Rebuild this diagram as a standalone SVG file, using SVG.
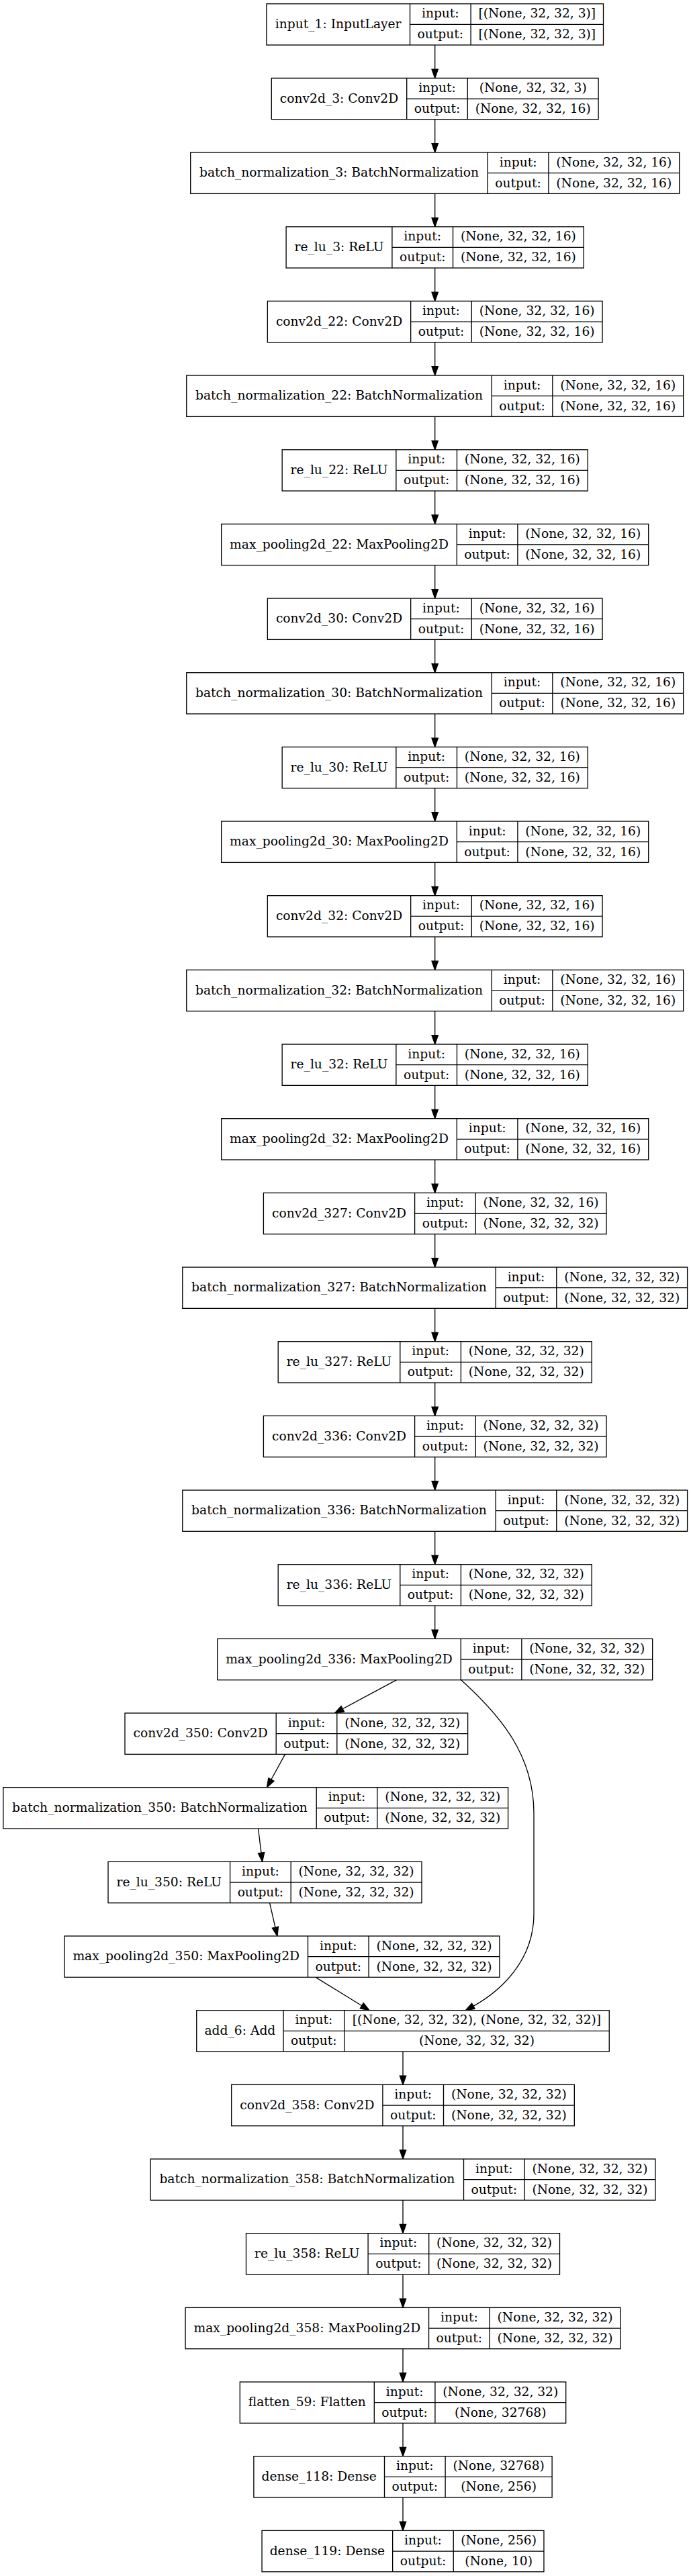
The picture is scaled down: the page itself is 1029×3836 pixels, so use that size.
<svg xmlns="http://www.w3.org/2000/svg" width="1029" height="3836" viewBox="0 0 1029 3836">
<style>
.node rect{fill:#fff;stroke:#000;stroke-width:1.33}
.node path{fill:none;stroke:#000;stroke-width:1.33}
.node text{font-family:"DejaVu Serif","Liberation Serif",serif;font-size:18.67px;text-anchor:middle;fill:#000}
.edges path{fill:none;stroke:#000;stroke-width:1.33;marker-end:url(#arr)}
</style>
<defs>
<marker id="arr" markerUnits="userSpaceOnUse" viewBox="0 0 13.33 9.34" refX="0" refY="4.67" markerWidth="13.33" markerHeight="9.34" orient="auto" overflow="visible">
<path d="M0,0L13.33,4.67L0,9.34z" fill="#000" stroke="#000" stroke-width="1.33"/>
</marker>
</defs>
<rect width="1029" height="3836" fill="#fff"/>
<g class="edges">
<path d="M647.7,67.03V103.04"/>
<path d="M647.7,177.7V213.7"/>
<path d="M647.7,288.37V324.37"/>
<path d="M647.7,399.03V435.04"/>
<path d="M647.7,509.7V545.7"/>
<path d="M647.7,620.37V656.37"/>
<path d="M647.7,731.03V767.04"/>
<path d="M647.7,841.7V877.7"/>
<path d="M647.7,952.37V988.37"/>
<path d="M647.7,1063.03V1099.04"/>
<path d="M647.7,1173.7V1209.7"/>
<path d="M647.7,1284.37V1320.37"/>
<path d="M647.7,1395.03V1431.04"/>
<path d="M647.7,1505.7V1541.7"/>
<path d="M647.7,1616.37V1652.37"/>
<path d="M647.7,1727.03V1763.04"/>
<path d="M647.7,1837.7V1873.7"/>
<path d="M647.7,1948.37V1984.37"/>
<path d="M647.7,2059.03V2095.04"/>
<path d="M647.7,2169.7V2205.7"/>
<path d="M647.7,2280.37V2316.37"/>
<path d="M647.7,2391.03V2427.04"/>
<path d="M590.51,2501.7L510.24,2544.73"/>
<path d="M686.7,2501.7C740,2550 795,2610 795,2700L795,2850C795,2920 745,2965 704.9,2987.3"/>
<path d="M424.51,2612.37L403.89,2650.01"/>
<path d="M384.52,2723.03L389.03,2759.14"/>
<path d="M401.57,2833.7L409.94,2870.04"/>
<path d="M469.88,2944.37L538.76,2986.72"/>
<path d="M600,3055.03V3091.04"/>
<path d="M600,3165.7V3201.7"/>
<path d="M600,3276.37V3312.37"/>
<path d="M600,3387.03V3423.04"/>
<path d="M600,3497.7V3533.7"/>
<path d="M600,3608.37V3644.37"/>
<path d="M600,3719.03V3755.04"/>
</g>

<g id="input_1" class="node" transform="translate(396.9,5.7)">
<rect width="501.6" height="61.33"/><path d="M213.6,0V61.33M304.2,0V61.33M213.6,30.67H501.6"/>
<text x="106.8" y="36.3">input_1: InputLayer</text><text x="258.9" y="20.8">input:</text><text x="258.9" y="51.5">output:</text>
<text x="402.9" y="20.8">[(None, 32, 32, 3)]</text><text x="402.9" y="51.5">[(None, 32, 32, 3)]</text>
</g>
<g id="conv2d_3" class="node" transform="translate(404.3,116.37)">
<rect width="486.8" height="61.33"/><path d="M201.4,0V61.33M292,0V61.33M201.4,30.67H486.8"/>
<text x="100.7" y="36.3">conv2d_3: Conv2D</text><text x="246.7" y="20.8">input:</text><text x="246.7" y="51.5">output:</text>
<text x="389.4" y="20.8">(None, 32, 32, 3)</text><text x="389.4" y="51.5">(None, 32, 32, 16)</text>
</g>
<g id="batch_normalization_3" class="node" transform="translate(283.7,227.03)">
<rect width="728" height="61.33"/><path d="M442.6,0V61.33M533.2,0V61.33M442.6,30.67H728"/>
<text x="221.3" y="36.3">batch_normalization_3: BatchNormalization</text><text x="487.9" y="20.8">input:</text><text x="487.9" y="51.5">output:</text>
<text x="630.6" y="20.8">(None, 32, 32, 16)</text><text x="630.6" y="51.5">(None, 32, 32, 16)</text>
</g>
<g id="re_lu_3" class="node" transform="translate(426.1,337.7)">
<rect width="443.2" height="61.33"/><path d="M157.8,0V61.33M248.4,0V61.33M157.8,30.67H443.2"/>
<text x="78.9" y="36.3">re_lu_3: ReLU</text><text x="203.1" y="20.8">input:</text><text x="203.1" y="51.5">output:</text>
<text x="345.8" y="20.8">(None, 32, 32, 16)</text><text x="345.8" y="51.5">(None, 32, 32, 16)</text>
</g>
<g id="conv2d_22" class="node" transform="translate(398.35,448.37)">
<rect width="498.7" height="61.33"/><path d="M213.3,0V61.33M303.9,0V61.33M213.3,30.67H498.7"/>
<text x="106.65" y="36.3">conv2d_22: Conv2D</text><text x="258.6" y="20.8">input:</text><text x="258.6" y="51.5">output:</text>
<text x="401.3" y="20.8">(None, 32, 32, 16)</text><text x="401.3" y="51.5">(None, 32, 32, 16)</text>
</g>
<g id="batch_normalization_22" class="node" transform="translate(277.75,559.03)">
<rect width="739.9" height="61.33"/><path d="M454.5,0V61.33M545.1,0V61.33M454.5,30.67H739.9"/>
<text x="227.25" y="36.3">batch_normalization_22: BatchNormalization</text><text x="499.8" y="20.8">input:</text><text x="499.8" y="51.5">output:</text>
<text x="642.5" y="20.8">(None, 32, 32, 16)</text><text x="642.5" y="51.5">(None, 32, 32, 16)</text>
</g>
<g id="re_lu_22" class="node" transform="translate(420.15,669.7)">
<rect width="455.1" height="61.33"/><path d="M169.7,0V61.33M260.3,0V61.33M169.7,30.67H455.1"/>
<text x="84.85" y="36.3">re_lu_22: ReLU</text><text x="215" y="20.8">input:</text><text x="215" y="51.5">output:</text>
<text x="357.7" y="20.8">(None, 32, 32, 16)</text><text x="357.7" y="51.5">(None, 32, 32, 16)</text>
</g>
<g id="max_pooling2d_22" class="node" transform="translate(329.7,780.37)">
<rect width="636" height="61.33"/><path d="M350.6,0V61.33M441.2,0V61.33M350.6,30.67H636"/>
<text x="175.3" y="36.3">max_pooling2d_22: MaxPooling2D</text><text x="395.9" y="20.8">input:</text><text x="395.9" y="51.5">output:</text>
<text x="538.6" y="20.8">(None, 32, 32, 16)</text><text x="538.6" y="51.5">(None, 32, 32, 16)</text>
</g>
<g id="conv2d_30" class="node" transform="translate(398.35,891.03)">
<rect width="498.7" height="61.33"/><path d="M213.3,0V61.33M303.9,0V61.33M213.3,30.67H498.7"/>
<text x="106.65" y="36.3">conv2d_30: Conv2D</text><text x="258.6" y="20.8">input:</text><text x="258.6" y="51.5">output:</text>
<text x="401.3" y="20.8">(None, 32, 32, 16)</text><text x="401.3" y="51.5">(None, 32, 32, 16)</text>
</g>
<g id="batch_normalization_30" class="node" transform="translate(277.75,1001.7)">
<rect width="739.9" height="61.33"/><path d="M454.5,0V61.33M545.1,0V61.33M454.5,30.67H739.9"/>
<text x="227.25" y="36.3">batch_normalization_30: BatchNormalization</text><text x="499.8" y="20.8">input:</text><text x="499.8" y="51.5">output:</text>
<text x="642.5" y="20.8">(None, 32, 32, 16)</text><text x="642.5" y="51.5">(None, 32, 32, 16)</text>
</g>
<g id="re_lu_30" class="node" transform="translate(420.15,1112.37)">
<rect width="455.1" height="61.33"/><path d="M169.7,0V61.33M260.3,0V61.33M169.7,30.67H455.1"/>
<text x="84.85" y="36.3">re_lu_30: ReLU</text><text x="215" y="20.8">input:</text><text x="215" y="51.5">output:</text>
<text x="357.7" y="20.8">(None, 32, 32, 16)</text><text x="357.7" y="51.5">(None, 32, 32, 16)</text>
</g>
<g id="max_pooling2d_30" class="node" transform="translate(329.7,1223.03)">
<rect width="636" height="61.33"/><path d="M350.6,0V61.33M441.2,0V61.33M350.6,30.67H636"/>
<text x="175.3" y="36.3">max_pooling2d_30: MaxPooling2D</text><text x="395.9" y="20.8">input:</text><text x="395.9" y="51.5">output:</text>
<text x="538.6" y="20.8">(None, 32, 32, 16)</text><text x="538.6" y="51.5">(None, 32, 32, 16)</text>
</g>
<g id="conv2d_32" class="node" transform="translate(398.35,1333.7)">
<rect width="498.7" height="61.33"/><path d="M213.3,0V61.33M303.9,0V61.33M213.3,30.67H498.7"/>
<text x="106.65" y="36.3">conv2d_32: Conv2D</text><text x="258.6" y="20.8">input:</text><text x="258.6" y="51.5">output:</text>
<text x="401.3" y="20.8">(None, 32, 32, 16)</text><text x="401.3" y="51.5">(None, 32, 32, 16)</text>
</g>
<g id="batch_normalization_32" class="node" transform="translate(277.75,1444.37)">
<rect width="739.9" height="61.33"/><path d="M454.5,0V61.33M545.1,0V61.33M454.5,30.67H739.9"/>
<text x="227.25" y="36.3">batch_normalization_32: BatchNormalization</text><text x="499.8" y="20.8">input:</text><text x="499.8" y="51.5">output:</text>
<text x="642.5" y="20.8">(None, 32, 32, 16)</text><text x="642.5" y="51.5">(None, 32, 32, 16)</text>
</g>
<g id="re_lu_32" class="node" transform="translate(420.15,1555.03)">
<rect width="455.1" height="61.33"/><path d="M169.7,0V61.33M260.3,0V61.33M169.7,30.67H455.1"/>
<text x="84.85" y="36.3">re_lu_32: ReLU</text><text x="215" y="20.8">input:</text><text x="215" y="51.5">output:</text>
<text x="357.7" y="20.8">(None, 32, 32, 16)</text><text x="357.7" y="51.5">(None, 32, 32, 16)</text>
</g>
<g id="max_pooling2d_32" class="node" transform="translate(329.7,1665.7)">
<rect width="636" height="61.33"/><path d="M350.6,0V61.33M441.2,0V61.33M350.6,30.67H636"/>
<text x="175.3" y="36.3">max_pooling2d_32: MaxPooling2D</text><text x="395.9" y="20.8">input:</text><text x="395.9" y="51.5">output:</text>
<text x="538.6" y="20.8">(None, 32, 32, 16)</text><text x="538.6" y="51.5">(None, 32, 32, 16)</text>
</g>
<g id="conv2d_327" class="node" transform="translate(392.4,1776.37)">
<rect width="510.6" height="61.33"/><path d="M225.2,0V61.33M315.8,0V61.33M225.2,30.67H510.6"/>
<text x="112.6" y="36.3">conv2d_327: Conv2D</text><text x="270.5" y="20.8">input:</text><text x="270.5" y="51.5">output:</text>
<text x="413.2" y="20.8">(None, 32, 32, 16)</text><text x="413.2" y="51.5">(None, 32, 32, 32)</text>
</g>
<g id="batch_normalization_327" class="node" transform="translate(271.8,1887.03)">
<rect width="751.8" height="61.33"/><path d="M466.4,0V61.33M557,0V61.33M466.4,30.67H751.8"/>
<text x="233.2" y="36.3">batch_normalization_327: BatchNormalization</text><text x="511.7" y="20.8">input:</text><text x="511.7" y="51.5">output:</text>
<text x="654.4" y="20.8">(None, 32, 32, 32)</text><text x="654.4" y="51.5">(None, 32, 32, 32)</text>
</g>
<g id="re_lu_327" class="node" transform="translate(414.2,1997.7)">
<rect width="467" height="61.33"/><path d="M181.6,0V61.33M272.2,0V61.33M181.6,30.67H467"/>
<text x="90.8" y="36.3">re_lu_327: ReLU</text><text x="226.9" y="20.8">input:</text><text x="226.9" y="51.5">output:</text>
<text x="369.6" y="20.8">(None, 32, 32, 32)</text><text x="369.6" y="51.5">(None, 32, 32, 32)</text>
</g>
<g id="conv2d_336" class="node" transform="translate(392.4,2108.37)">
<rect width="510.6" height="61.33"/><path d="M225.2,0V61.33M315.8,0V61.33M225.2,30.67H510.6"/>
<text x="112.6" y="36.3">conv2d_336: Conv2D</text><text x="270.5" y="20.8">input:</text><text x="270.5" y="51.5">output:</text>
<text x="413.2" y="20.8">(None, 32, 32, 32)</text><text x="413.2" y="51.5">(None, 32, 32, 32)</text>
</g>
<g id="batch_normalization_336" class="node" transform="translate(271.8,2219.03)">
<rect width="751.8" height="61.33"/><path d="M466.4,0V61.33M557,0V61.33M466.4,30.67H751.8"/>
<text x="233.2" y="36.3">batch_normalization_336: BatchNormalization</text><text x="511.7" y="20.8">input:</text><text x="511.7" y="51.5">output:</text>
<text x="654.4" y="20.8">(None, 32, 32, 32)</text><text x="654.4" y="51.5">(None, 32, 32, 32)</text>
</g>
<g id="re_lu_336" class="node" transform="translate(414.2,2329.7)">
<rect width="467" height="61.33"/><path d="M181.6,0V61.33M272.2,0V61.33M181.6,30.67H467"/>
<text x="90.8" y="36.3">re_lu_336: ReLU</text><text x="226.9" y="20.8">input:</text><text x="226.9" y="51.5">output:</text>
<text x="369.6" y="20.8">(None, 32, 32, 32)</text><text x="369.6" y="51.5">(None, 32, 32, 32)</text>
</g>
<g id="max_pooling2d_336" class="node" transform="translate(323.75,2440.37)">
<rect width="647.9" height="61.33"/><path d="M362.5,0V61.33M453.1,0V61.33M362.5,30.67H647.9"/>
<text x="181.25" y="36.3">max_pooling2d_336: MaxPooling2D</text><text x="407.8" y="20.8">input:</text><text x="407.8" y="51.5">output:</text>
<text x="550.5" y="20.8">(None, 32, 32, 32)</text><text x="550.5" y="51.5">(None, 32, 32, 32)</text>
</g>
<g id="conv2d_350" class="node" transform="translate(186,2551.03)">
<rect width="510.6" height="61.33"/><path d="M225.2,0V61.33M315.8,0V61.33M225.2,30.67H510.6"/>
<text x="112.6" y="36.3">conv2d_350: Conv2D</text><text x="270.5" y="20.8">input:</text><text x="270.5" y="51.5">output:</text>
<text x="413.2" y="20.8">(None, 32, 32, 32)</text><text x="413.2" y="51.5">(None, 32, 32, 32)</text>
</g>
<g id="batch_normalization_350" class="node" transform="translate(4.8,2661.7)">
<rect width="751.8" height="61.33"/><path d="M466.4,0V61.33M557,0V61.33M466.4,30.67H751.8"/>
<text x="233.2" y="36.3">batch_normalization_350: BatchNormalization</text><text x="511.7" y="20.8">input:</text><text x="511.7" y="51.5">output:</text>
<text x="654.4" y="20.8">(None, 32, 32, 32)</text><text x="654.4" y="51.5">(None, 32, 32, 32)</text>
</g>
<g id="re_lu_350" class="node" transform="translate(161,2772.37)">
<rect width="467" height="61.33"/><path d="M181.6,0V61.33M272.2,0V61.33M181.6,30.67H467"/>
<text x="90.8" y="36.3">re_lu_350: ReLU</text><text x="226.9" y="20.8">input:</text><text x="226.9" y="51.5">output:</text>
<text x="369.6" y="20.8">(None, 32, 32, 32)</text><text x="369.6" y="51.5">(None, 32, 32, 32)</text>
</g>
<g id="max_pooling2d_350" class="node" transform="translate(96,2883.03)">
<rect width="647.9" height="61.33"/><path d="M362.5,0V61.33M453.1,0V61.33M362.5,30.67H647.9"/>
<text x="181.25" y="36.3">max_pooling2d_350: MaxPooling2D</text><text x="407.8" y="20.8">input:</text><text x="407.8" y="51.5">output:</text>
<text x="550.5" y="20.8">(None, 32, 32, 32)</text><text x="550.5" y="51.5">(None, 32, 32, 32)</text>
</g>
<g id="add_6" class="node" transform="translate(292.75,2993.7)">
<rect width="614.5" height="61.33"/><path d="M129.3,0V61.33M219.9,0V61.33M129.3,30.67H614.5"/>
<text x="64.65" y="36.3">add_6: Add</text><text x="174.6" y="20.8">input:</text><text x="174.6" y="51.5">output:</text>
<text x="417.2" y="20.8">[(None, 32, 32, 32), (None, 32, 32, 32)]</text><text x="417.2" y="51.5">(None, 32, 32, 32)</text>
</g>
<g id="conv2d_358" class="node" transform="translate(344.7,3104.37)">
<rect width="510.6" height="61.33"/><path d="M225.2,0V61.33M315.8,0V61.33M225.2,30.67H510.6"/>
<text x="112.6" y="36.3">conv2d_358: Conv2D</text><text x="270.5" y="20.8">input:</text><text x="270.5" y="51.5">output:</text>
<text x="413.2" y="20.8">(None, 32, 32, 32)</text><text x="413.2" y="51.5">(None, 32, 32, 32)</text>
</g>
<g id="batch_normalization_358" class="node" transform="translate(224.1,3215.03)">
<rect width="751.8" height="61.33"/><path d="M466.4,0V61.33M557,0V61.33M466.4,30.67H751.8"/>
<text x="233.2" y="36.3">batch_normalization_358: BatchNormalization</text><text x="511.7" y="20.8">input:</text><text x="511.7" y="51.5">output:</text>
<text x="654.4" y="20.8">(None, 32, 32, 32)</text><text x="654.4" y="51.5">(None, 32, 32, 32)</text>
</g>
<g id="re_lu_358" class="node" transform="translate(366.5,3325.7)">
<rect width="467" height="61.33"/><path d="M181.6,0V61.33M272.2,0V61.33M181.6,30.67H467"/>
<text x="90.8" y="36.3">re_lu_358: ReLU</text><text x="226.9" y="20.8">input:</text><text x="226.9" y="51.5">output:</text>
<text x="369.6" y="20.8">(None, 32, 32, 32)</text><text x="369.6" y="51.5">(None, 32, 32, 32)</text>
</g>
<g id="max_pooling2d_358" class="node" transform="translate(276.05,3436.37)">
<rect width="647.9" height="61.33"/><path d="M362.5,0V61.33M453.1,0V61.33M362.5,30.67H647.9"/>
<text x="181.25" y="36.3">max_pooling2d_358: MaxPooling2D</text><text x="407.8" y="20.8">input:</text><text x="407.8" y="51.5">output:</text>
<text x="550.5" y="20.8">(None, 32, 32, 32)</text><text x="550.5" y="51.5">(None, 32, 32, 32)</text>
</g>
<g id="flatten_59" class="node" transform="translate(357.3,3547.03)">
<rect width="485.4" height="61.33"/><path d="M200,0V61.33M290.6,0V61.33M200,30.67H485.4"/>
<text x="100" y="36.3">flatten_59: Flatten</text><text x="245.3" y="20.8">input:</text><text x="245.3" y="51.5">output:</text>
<text x="388" y="20.8">(None, 32, 32, 32)</text><text x="388" y="51.5">(None, 32768)</text>
</g>
<g id="dense_118" class="node" transform="translate(377.9,3657.7)">
<rect width="444.2" height="61.33"/><path d="M194.6,0V61.33M285.2,0V61.33M194.6,30.67H444.2"/>
<text x="97.3" y="36.3">dense_118: Dense</text><text x="239.9" y="20.8">input:</text><text x="239.9" y="51.5">output:</text>
<text x="364.7" y="20.8">(None, 32768)</text><text x="364.7" y="51.5">(None, 256)</text>
</g>
<g id="dense_119" class="node" transform="translate(390.05,3768.37)">
<rect width="419.9" height="61.33"/><path d="M194.6,0V61.33M285.2,0V61.33M194.6,30.67H419.9"/>
<text x="97.3" y="36.3">dense_119: Dense</text><text x="239.9" y="20.8">input:</text><text x="239.9" y="51.5">output:</text>
<text x="352.55" y="20.8">(None, 256)</text><text x="352.55" y="51.5">(None, 10)</text>
</g>
</svg>
